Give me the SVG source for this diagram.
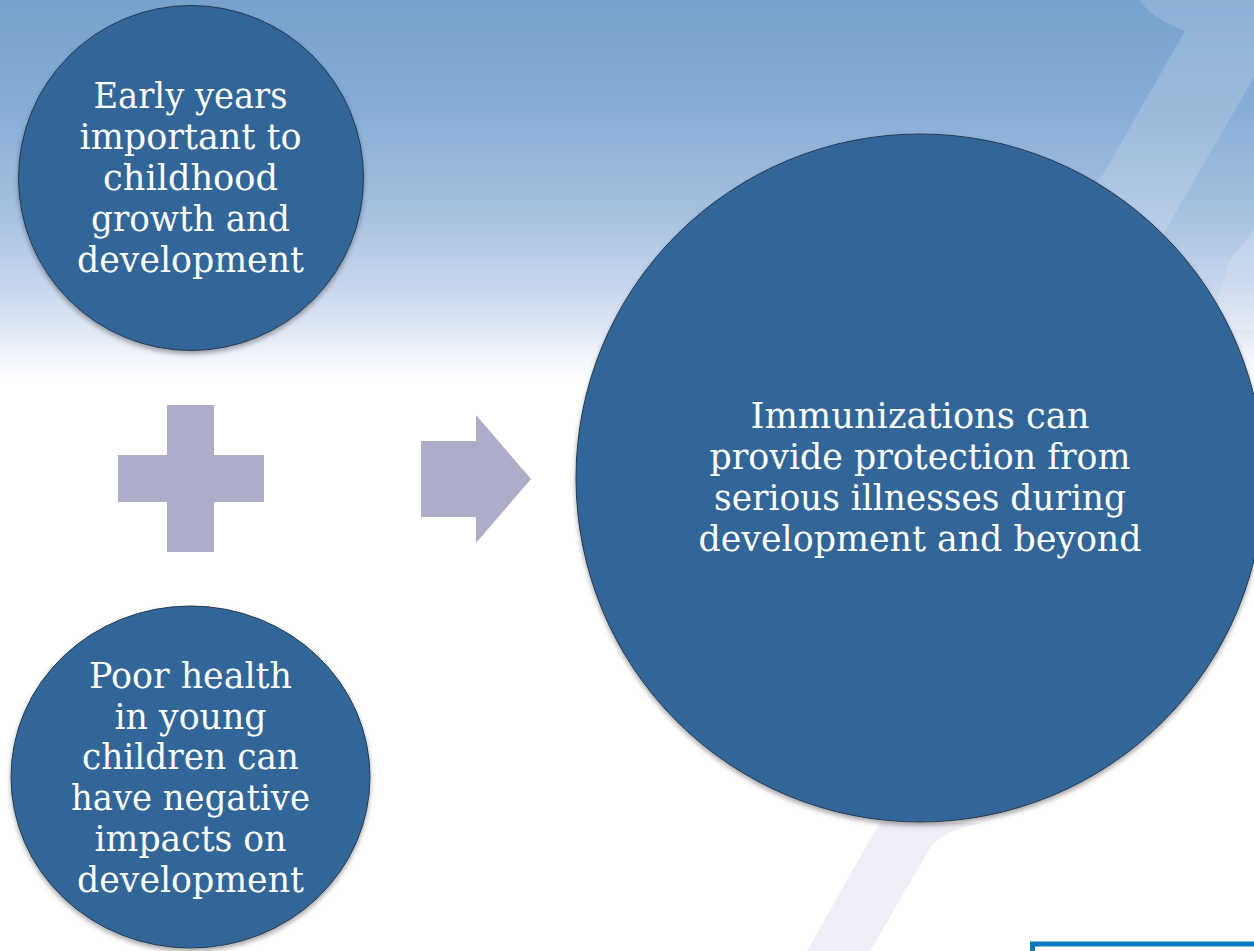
<svg xmlns="http://www.w3.org/2000/svg" width="1254" height="951" viewBox="0 0 1254 951">
  <defs>
    <linearGradient id="sky" x1="0" y1="0" x2="0" y2="951" gradientUnits="userSpaceOnUse">
      <stop offset="0" stop-color="#76A2CD"/>
      <stop offset="0.12" stop-color="#88AED6"/>
      <stop offset="0.22" stop-color="#A6C0E0"/>
      <stop offset="0.30" stop-color="#C6D5EC"/>
      <stop offset="0.35" stop-color="#E2E9F5"/>
      <stop offset="0.385" stop-color="#F6F8FC"/>
      <stop offset="0.40" stop-color="#FFFFFF"/>
      <stop offset="1" stop-color="#FFFFFF"/>
    </linearGradient>
    <filter id="shadow" x="-10%" y="-10%" width="120%" height="125%">
      <feDropShadow dx="0" dy="3" stdDeviation="2.5" flood-color="#000000" flood-opacity="0.35"/>
    </filter>
    <style>
      .bubble { fill: #336699; stroke: #24394f; stroke-width: 1; filter: url(#shadow); }
      .label { font-family: "DejaVu Serif", "Liberation Serif", serif; font-size: 35px; fill: #FFFFFF; text-anchor: middle; }
      .op { fill: #ADADCA; }
      .swoosh { fill: #FFFFFF; fill-opacity: 0.16; }
    </style>
  </defs>

  <!-- backdrop -->
  <rect x="0" y="0" width="1254" height="951" fill="url(#sky)"/>
  <path class="swoosh" d="M1140,0 Q1150,18 1185,31 L700,880 L790,880 L1254,77 L1254,0 Z"/>
  <path class="swoosh" d="M1228,263 L1254,230 L1254,330 L1210,330 Z"/>
  <path d="M983,823 Q950,828 932,845 L870,951 L807,951 L880,822 Z" fill="#EEEEF7"/>

  <!-- footer frame -->
  <rect x="1032.5" y="944" width="300" height="40" fill="#FFFFFF" stroke="#0A78BE" stroke-width="5"/>

  <!-- operators -->
  <g id="connectors">
    <path id="plus" class="op" d="M167,405 H214 V455 H264 V502 H214 V552 H167 V502 H118 V455 H167 Z"/>
    <path id="arrow" class="op" d="M421,441 H476 V415 L531,479 L476,543 V517 H421 Z"/>
  </g>

  <g id="early-years">
    <circle class="bubble" cx="191" cy="178" r="172.5"/>
    <text class="label" x="190.5" y="108.3" textLength="194" lengthAdjust="spacingAndGlyphs">Early years</text>
    <text class="label" x="190.5" y="149.1" textLength="222" lengthAdjust="spacingAndGlyphs">important to</text>
    <text class="label" x="190.5" y="189.9" textLength="175" lengthAdjust="spacingAndGlyphs">childhood</text>
    <text class="label" x="190.5" y="230.7" textLength="199" lengthAdjust="spacingAndGlyphs">growth and</text>
    <text class="label" x="190.5" y="271.5" textLength="227" lengthAdjust="spacingAndGlyphs">development</text>
  </g>

  <g id="poor-health">
    <ellipse class="bubble" cx="190.5" cy="777" rx="179.5" ry="171"/>
    <text class="label" x="190.5" y="687.7" textLength="203" lengthAdjust="spacingAndGlyphs">Poor health</text>
    <text class="label" x="190.5" y="728.5" textLength="152" lengthAdjust="spacingAndGlyphs">in young</text>
    <text class="label" x="190.5" y="769.3" textLength="217" lengthAdjust="spacingAndGlyphs">children can</text>
    <text class="label" x="190.5" y="810.1" textLength="239" lengthAdjust="spacingAndGlyphs">have negative</text>
    <text class="label" x="190.5" y="850.9" textLength="192" lengthAdjust="spacingAndGlyphs">impacts on</text>
    <text class="label" x="190.5" y="891.7" textLength="227" lengthAdjust="spacingAndGlyphs">development</text>
  </g>

  <g id="immunizations">
    <circle class="bubble" cx="920" cy="478" r="344"/>
    <text class="label" x="920" y="428.3" textLength="339" lengthAdjust="spacingAndGlyphs">Immunizations can</text>
    <text class="label" x="920" y="469.1" textLength="421" lengthAdjust="spacingAndGlyphs">provide protection from</text>
    <text class="label" x="920" y="509.9" textLength="412" lengthAdjust="spacingAndGlyphs">serious illnesses during</text>
    <text class="label" x="920" y="550.7" textLength="443" lengthAdjust="spacingAndGlyphs">development and beyond</text>
  </g>
</svg>
